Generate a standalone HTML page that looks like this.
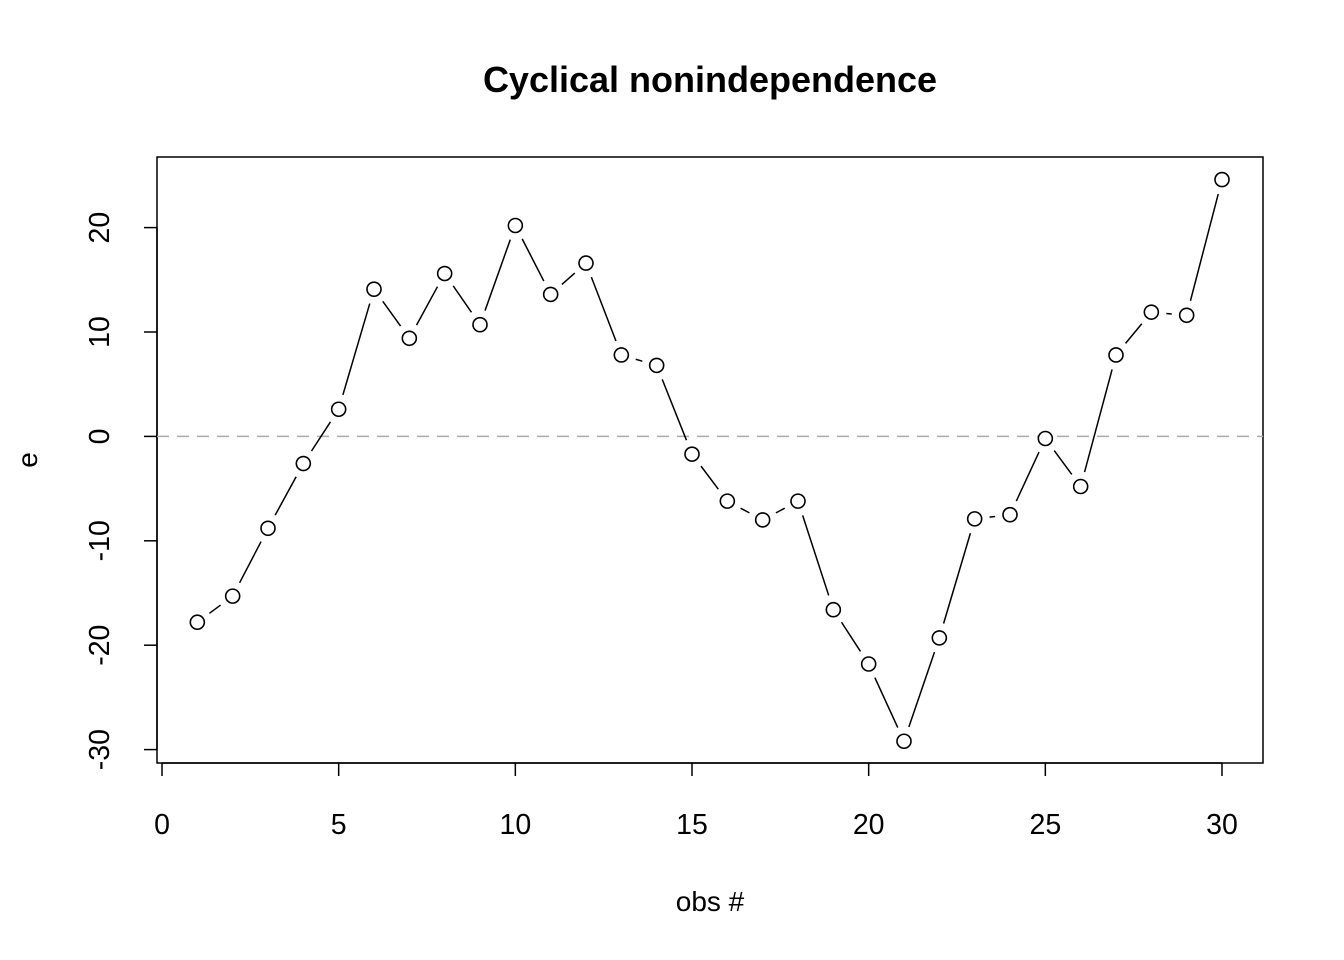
<!DOCTYPE html>
<html><head><meta charset="utf-8"><style>body{margin:0;background:#fff}svg{display:block}text{font-family:"Liberation Sans",Arial,sans-serif;fill:#000}</style></head>
<body>
<svg id="chart" width="1344" height="960" xmlns="http://www.w3.org/2000/svg">
<text x="710" y="92" font-size="36" font-weight="bold" text-anchor="middle">Cyclical nonindependence</text>
<rect x="157" y="157" width="1106" height="606" fill="none" stroke="#000" stroke-width="1.5"/>
<text x="710" y="911" font-size="28" text-anchor="middle">obs #</text>
<text transform="translate(37,460) rotate(-90)" font-size="28" text-anchor="middle">e</text>
<g id="axes"></g><g id="marks"></g>
</svg>
<script>
const obs=[1,2,3,4,5,6,7,8,9,10,11,12,13,14,15,16,17,18,19,20,21,22,23,24,25,26,27,28,29,30];
const residuals=[-17.8,-15.3,-8.8,-2.6,2.6,14.1,9.4,15.6,10.7,20.2,13.6,16.6,7.8,6.8,-1.7,-6.2,-8.0,-6.2,-16.6,-21.8,-29.2,-19.3,-7.9,-7.5,-0.2,-4.8,7.8,11.9,11.6,24.6];
const xTicks=[0,5,10,15,20,25,30];
const yTicks=[-30,-20,-10,0,10,20];
const NS='http://www.w3.org/2000/svg';
const xs=v=>162+v*(1222-162)/30;
const ys=v=>436.4-v*(750-228)/50;
function mk(tag,attrs,parent){const e=document.createElementNS(NS,tag);for(const k in attrs)e.setAttribute(k,attrs[k]);parent.appendChild(e);return e;}
const axes=document.getElementById('axes'),marks=document.getElementById('marks');
const xa=mk('line',{x1:xs(0),x2:xs(30),y1:763,y2:763,stroke:'#000','stroke-width':1.5},axes);


xTicks.forEach(t=>{
 const l=mk('line',{x1:xs(t),x2:xs(t),y1:763,y2:776,stroke:'#000','stroke-width':1.5},axes);
 
 
 const tx=mk('text',{x:xs(t),y:834,'font-size':28.5,'text-anchor':'middle'},axes);tx.textContent=t;
 
 
});
const ya=mk('line',{x1:157,x2:157,y1:ys(-30),y2:ys(20),stroke:'#000','stroke-width':1.5},axes);


yTicks.forEach(t=>{
 const l=mk('line',{x1:144,x2:157,y1:ys(t),y2:ys(t),stroke:'#000','stroke-width':1.5},axes);
 
 
 const tx=mk('text',{transform:`translate(109,${ys(t)}) rotate(-90)`,'font-size':28.5,'text-anchor':'middle'},axes);tx.textContent=t;
 
 
});
const zl=mk('line',{x1:157,x2:1263,y1:ys(0),y2:ys(0),stroke:'#aaa','stroke-width':1.5,'stroke-dasharray':'12 8'},marks);


for(let i=0;i<obs.length-1;i++){
 const x1=xs(obs[i]),y1=ys(residuals[i]),x2=xs(obs[i+1]),y2=ys(residuals[i+1]);
 const d=Math.hypot(x2-x1,y2-y1),g=15;
 if(d>2*g){const ux=(x2-x1)/d,uy=(y2-y1)/d;
  const s=mk('line',{x1:x1+ux*g,y1:y1+uy*g,x2:x2-ux*g,y2:y2-uy*g,stroke:'#000','stroke-width':1.5},marks);
  
  }
}
obs.forEach((o,i)=>{
 const c=mk('circle',{cx:xs(o),cy:ys(residuals[i]),r:7,fill:'#fff',stroke:'#000','stroke-width':1.6},marks);
 
 
});
</script>
</body></html>
